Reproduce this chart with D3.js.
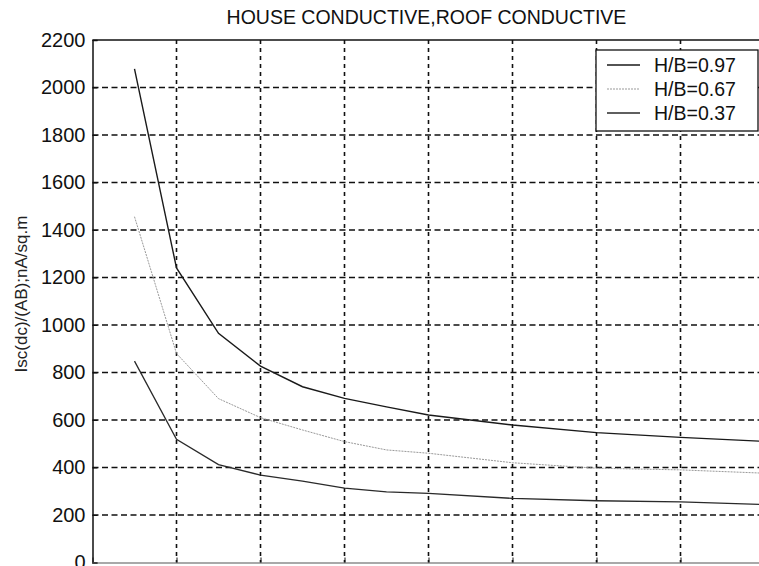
<!DOCTYPE html>
<html>
<head>
<meta charset="utf-8">
<script src="https://cdn.jsdelivr.net/npm/d3@7"></script>
<style>
  html, body { margin: 0; padding: 0; background: #fff; }
  svg { display: block; font-family: "Liberation Sans", Arial, sans-serif; }
</style>
</head>
<body>
<svg id="chart" width="759" height="566"></svg>
<script>
const title = "HOUSE CONDUCTIVE,ROOF CONDUCTIVE";
const yLabel = "Isc(dc)/(AB);nA/sq.m";
const xValues = [0.5, 1, 1.5, 2, 2.5, 3, 3.5, 4, 5, 6, 7, 8];
const hb097 = [2078, 1240, 965, 827, 740, 691, 655, 621, 579, 547, 527, 510];
const hb067 = [1456, 880, 690, 610, 558, 509, 474, 460, 420, 397, 390, 376];
const hb037 = [848, 519, 412, 368, 343, 313, 297, 291, 270, 260, 255, 244];
const seriesNames = ["H/B=0.97", "H/B=0.67", "H/B=0.37"];
const yTicks = [0, 200, 400, 600, 800, 1000, 1200, 1400, 1600, 1800, 2000, 2200];
const xTicks = [0, 1, 2, 3, 4, 5, 6, 7, 8];

const svg = d3.select("#chart");
const pLeft = 92.5, pRight = 764.5, pTop = 40, pBottom = 562.5;

const x = d3.scaleLinear().domain([0, 8]).range([pLeft, pRight]);
const y = d3.scaleLinear().domain([0, 2200]).range([pBottom, pTop]);

// grid
const grid = svg.append("g");
grid.selectAll("line.h").data(yTicks.filter(d => d > 0 && d < 2200)).enter().append("line")
  .attr("x1", pLeft).attr("x2", pRight)
  .attr("y1", d => y(d)).attr("y2", d => y(d))
  .attr("stroke", "#111").attr("stroke-width", 1.3).attr("stroke-dasharray", "6,3.5");
grid.selectAll("line.v").data(xTicks.filter(d => d > 0 && d < 8)).enter().append("line")
  .attr("x1", d => x(d)).attr("x2", d => x(d))
  .attr("y1", pTop).attr("y2", pBottom)
  .attr("stroke", "#111").attr("stroke-width", 1.6).attr("stroke-dasharray", "4,4");

// axes
const yAxis = d3.axisLeft(y).tickValues(yTicks).tickSize(-5).tickPadding(7).tickFormat(d3.format("d"));
const gy = svg.append("g").attr("transform", `translate(${pLeft},0)`).call(yAxis);
gy.select(".domain").attr("stroke", "#111").attr("stroke-width", 1.5);
gy.selectAll(".tick line").attr("stroke", "#111");
gy.selectAll("text").attr("font-size", 20).attr("fill", "#111")
  .attr("font-family", "'Liberation Sans', Arial, sans-serif");

// x axis: its tick labels fall below the visible frame in the reference
const xAxis = d3.axisBottom(x).tickValues(xTicks).tickSize(-5).tickFormat("");
const gx = svg.append("g").attr("transform", `translate(0,${pBottom})`).call(xAxis);
gx.select(".domain").attr("stroke", "#555").attr("stroke-width", 1.2);
gx.selectAll(".tick line").attr("stroke", "#111");

// top border
svg.append("line").attr("x1", pLeft).attr("x2", pRight).attr("y1", pTop).attr("y2", pTop)
  .attr("stroke", "#111").attr("stroke-width", 1.5);

// lines
const line = d3.line().x(d => x(d[0])).y(d => y(d[1]));
const styles = [
  { stroke: "#1a1a1a", width: 1.4, dash: null },
  { stroke: "#999", width: 1.0, dash: "2,1" },
  { stroke: "#2a2a2a", width: 1.3, dash: null }
];
[hb097, hb067, hb037].forEach((vals, i) => {
  svg.append("path")
    .datum(xValues.map((xv, j) => [xv, vals[j]]))
    .attr("d", line)
    .attr("fill", "none")
    .attr("stroke", styles[i].stroke)
    .attr("stroke-width", styles[i].width)
    .attr("stroke-dasharray", styles[i].dash);
});

// title
svg.append("text").attr("x", (pLeft + pRight) / 2 - 2).attr("y", 24)
  .attr("text-anchor", "middle").attr("font-size", 19.5).attr("fill", "#111").text(title);

// y label
svg.append("text").attr("transform", `translate(27,294) rotate(-90)`)
  .attr("text-anchor", "middle").attr("font-size", 17).attr("fill", "#222").text(yLabel);

// legend
const lg = svg.append("g");
lg.append("rect").attr("x", 596).attr("y", 50).attr("width", 162).attr("height", 81)
  .attr("fill", "#fff").attr("stroke", "#111").attr("stroke-width", 1.3);
const rowsY = [65, 89, 113];
seriesNames.forEach((name, i) => {
  lg.append("line").attr("x1", 607).attr("x2", 640).attr("y1", rowsY[i]).attr("y2", rowsY[i])
    .attr("stroke", styles[i].stroke).attr("stroke-width", styles[i].width)
    .attr("stroke-dasharray", styles[i].dash);
  lg.append("text").attr("x", 654).attr("y", rowsY[i] + 7)
    .attr("font-size", 19.5).attr("fill", "#111").text(name);
});
</script>
</body>
</html>
